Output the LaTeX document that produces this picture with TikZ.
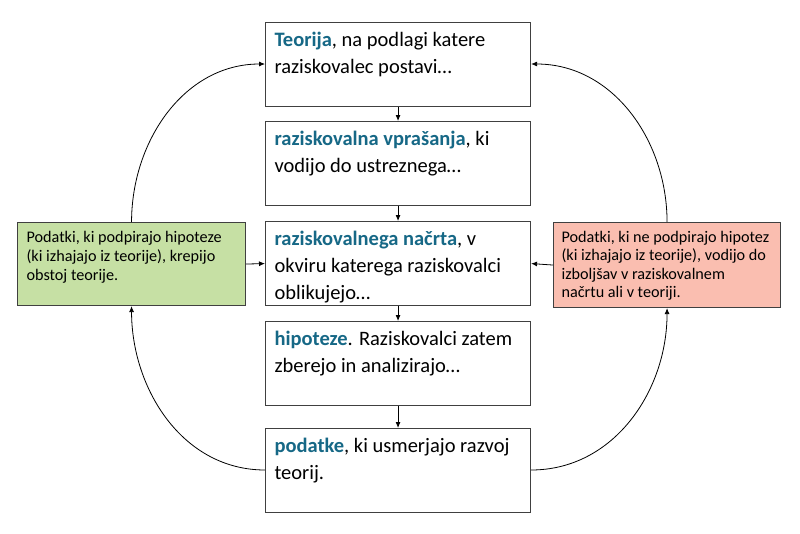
\documentclass[tikz,border=0pt]{standalone}
\usepackage{fontspec}
\setmainfont{Carlito}
\usetikzlibrary{arrows.meta}
\definecolor{teal1}{RGB}{22,104,134}
\definecolor{greenfill}{RGB}{198,224,164}
\definecolor{redfill}{RGB}{250,190,176}
\definecolor{edge}{RGB}{64,64,64}
\newcommand{\kw}[1]{\textbf{\textcolor{teal1}{#1}}}
\newcommand{\mainbox}[1]{\parbox[c][70pt][t]{247pt}{\fontsize{20.5pt}{27pt}\selectfont\raggedright\vspace*{3pt}#1}}
\newcommand{\sidebox}[3]{\parbox[c][#1][t]{#2}{\fontsize{16.2pt}{19pt}\selectfont\raggedright #3}}
\tikzset{
  boxstyle/.style={draw=edge, line width=1.1pt, fill=white, inner xsep=9pt, inner ysep=7pt, anchor=north west},
  sidestyle/.style={draw=edge, line width=1.1pt, inner xsep=9pt, anchor=north west},
  conn/.style={draw=black, line width=0.8pt, -{Latex[length=6pt,width=5pt]}}
}
\begin{document}
\begin{tikzpicture}[x=1pt,y=-1pt]
\useasboundingbox (0,0) rectangle (800,533);
\node[boxstyle] (b1) at (265,22) {\mainbox{\kw{Teorija}, na podlagi katere\\raziskovalec postavi…}};
\node[boxstyle] (b2) at (265,121) {\mainbox{\kw{raziskovalna vprašanja}, ki\\vodijo do ustreznega…}};
\node[boxstyle] (b3) at (265,221) {\mainbox{\kw{raziskovalnega načrta}, v\\okviru katerega raziskovalci\\oblikujejo…}};
\node[boxstyle] (b4) at (265,321) {\mainbox{\kw{hipoteze}. Raziskovalci zatem\\zberejo in analizirajo…}};
\node[boxstyle] (b5) at (265,428) {\mainbox{\kw{podatke}, ki usmerjajo razvoj\\teorij.}};
\node[sidestyle, fill=greenfill, inner ysep=8.5pt] (g) at (17,222) {\sidebox{66pt}{210pt}{Podatki, ki podpirajo hipoteze\\(ki izhajajo iz teorije), krepijo\\obstoj teorije.}};
\node[sidestyle, fill=redfill, inner xsep=8pt, inner ysep=8.5pt] (r) at (553,222) {\sidebox{68pt}{211pt}{\baselineskip=18.5pt Podatki, ki ne podpirajo hipotez\\(ki izhajajo iz teorije), vodijo do\\izboljšav v raziskovalnem\\načrtu ali v teoriji.}};
\draw[conn] (b1.south) -- (b2.north);
\draw[conn] (b2.south) -- (b3.north);
\draw[conn] (b3.south) -- (b4.north);
\draw[conn] (b4.south) -- (b5.north);
\draw[conn] (g.east) -- (b3.west);
\draw[conn] (r.west) -- (b3.east);
\coordinate (b1l) at ([yshift=-42pt]b1.north west);
\coordinate (b1r) at ([yshift=-42pt]b1.north east);
\coordinate (b5l) at ([yshift=-42pt]b5.north west);
\coordinate (b5r) at ([yshift=-42pt]b5.north east);
\draw[conn] (g.north) to[out=90,in=180] (b1l);
\draw[conn] (b5l) to[out=180,in=-90] (g.south);
\draw[conn] (r.north) to[out=90,in=0] (b1r);
\draw[conn] (b5r) to[out=0,in=-90] (r.south);
\end{tikzpicture}
\end{document}
